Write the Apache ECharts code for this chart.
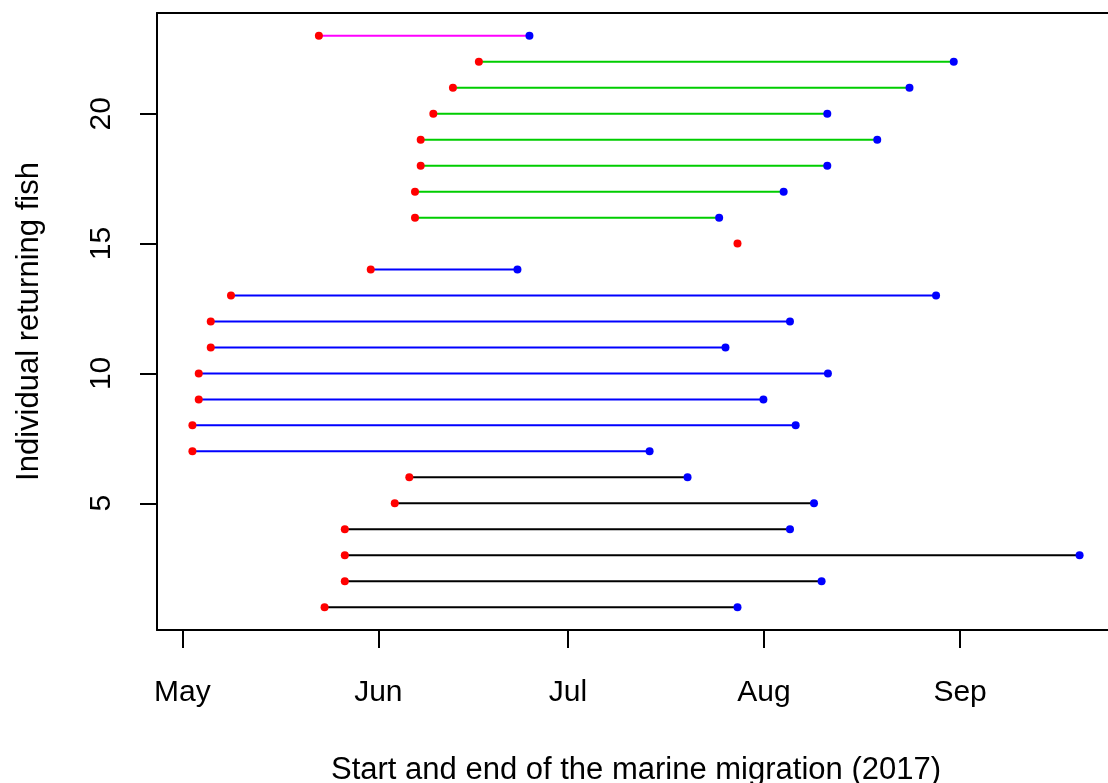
<!DOCTYPE html>
<html>
<head>
<meta charset="utf-8">
<script src="https://cdn.jsdelivr.net/npm/echarts@6/dist/echarts.min.js"></script>
<style>
html,body{margin:0;padding:0;background:#fff;}
#chart{width:1108px;height:783px;}
</style>
</head>
<body>
<div id="chart"></div>
<script>
// Individual fish (rows) 1..23
const fishIds = [1,2,3,4,5,6,7,8,9,10,11,12,13,14,15,16,17,18,19,20,21,22,23];
// Start of marine migration, days after 1 May 2017
const startDays = [22.5,25.7,25.7,25.7,33.6,35.9,1.6,1.6,2.6,2.6,4.5,4.5,7.7,29.8,87.8,36.8,36.8,37.7,37.7,39.7,42.8,46.9,21.6];
// End of marine migration, days after 1 May 2017 (null = not recorded)
const endDays = [87.8,101.1,141.9,96.1,99.9,79.9,73.9,97.0,91.9,102.1,85.9,96.1,119.2,53.0,null,84.9,95.1,102.0,109.9,102.0,115.0,122.0,54.9];
// Group of each fish (segment colour group)
const groups = ['g1','g1','g1','g1','g1','g1','g2','g2','g2','g2','g2','g2','g2','g2','g3','g3','g3','g3','g3','g3','g3','g3','g4'];
const groupNames = ['g1','g2','g3','g4'];
const groupColors = {g1:'#000000', g2:'#0000FF', g3:'#00CD00', g4:'#FF00FF'};
// Month tick positions (days after 1 May) and labels
const monthTicks = [0,31,61,92,123];
const monthLabels = ['May','Jun','Jul','Aug','Sep'];
const yTicks = [5,10,15,20];

const FONT = 'Liberation Sans, Arial, sans-serif';

const series = [];
groupNames.forEach(g => {
  const data = [];
  fishIds.forEach((id, i) => {
    if (groups[i] === g && endDays[i] !== null) {
      data.push([startDays[i], id]);
      data.push([endDays[i], id]);
      data.push('-');
    }
  });
  series.push({
    type: 'line', data: data, symbol: 'none', silent: true,
    lineStyle: {color: groupColors[g], width: 2}, connectNulls: false, z: 2
  });
});
series.push({
  type: 'scatter', silent: true, z: 3,
  data: fishIds.map((id, i) => [startDays[i], id]),
  symbol: 'circle', symbolSize: 8, itemStyle: {color: '#FF0000', opacity: 1}
});
series.push({
  type: 'scatter', silent: true, z: 3,
  data: fishIds.map((id, i) => endDays[i] === null ? null : [endDays[i], id]).filter(d => d),
  symbol: 'circle', symbolSize: 8, itemStyle: {color: '#0000FF', opacity: 1}
});

const chart = echarts.init(document.getElementById('chart'), null, {renderer: 'canvas'});
chart.setOption({
  animation: false,
  backgroundColor: '#fff',
  grid: {left: 157, top: 13, width: 958, height: 617, show: false, outerBoundsMode: 'none', containLabel: false},
  xAxis: [{
    type: 'value', min: -4.0, max: 147.5, position: 'bottom',
    name: 'Start and end of the marine migration (2017)',
    nameLocation: 'middle', nameGap: 125,
    nameTextStyle: {fontFamily: FONT, fontSize: 31, color: '#000'},
    axisLine: {show: true, onZero: false, lineStyle: {color: '#000', width: 2}},
    axisTick: {show: true, customValues: monthTicks, length: 18, lineStyle: {color: '#000', width: 2}},
    axisLabel: {show: true, customValues: monthTicks, margin: 48,
      formatter: v => monthLabels[monthTicks.indexOf(v)],
      fontFamily: FONT, fontSize: 30, color: '#000'},
    splitLine: {show: false}
  }, {
    type: 'value', min: -4.0, max: 147.5, position: 'top',
    axisLine: {show: true, onZero: false, lineStyle: {color: '#000', width: 2}},
    axisTick: {show: false}, axisLabel: {show: false}, splitLine: {show: false}
  }],
  yAxis: {
    type: 'value', min: 0.12, max: 23.88,
    name: 'Individual returning fish',
    nameLocation: 'middle', nameGap: 112, nameRotate: 90,
    nameTextStyle: {fontFamily: FONT, fontSize: 31, color: '#000'},
    axisLine: {show: true, onZero: false, lineStyle: {color: '#000', width: 2}},
    axisTick: {show: true, customValues: yTicks, length: 17, lineStyle: {color: '#000', width: 2}},
    axisLabel: {show: true, customValues: yTicks, rotate: 90, margin: 40,
      fontFamily: FONT, fontSize: 30, color: '#000'},
    splitLine: {show: false}
  },
  series: series
});
</script>
</body>
</html>
